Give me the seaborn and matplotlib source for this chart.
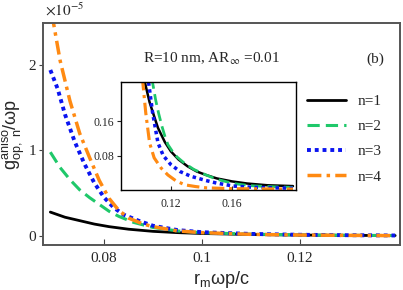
import numpy as np
import pandas as pd
import seaborn as sns
import matplotlib
matplotlib.use("Agg")
import matplotlib.pyplot as plt

# main panel, values in units of 1e-5
x_n1 = [0.069, 0.072, 0.075, 0.078, 0.081, 0.085, 0.090, 0.095, 0.100, 0.110, 0.120, 0.130, 0.1395]
y_n1 = [0.28, 0.22, 0.18, 0.14, 0.11, 0.08, 0.055, 0.04, 0.03, 0.018, 0.012, 0.008, 0.006]
x_n2 = [0.069, 0.071, 0.073, 0.075, 0.077, 0.079, 0.081, 0.083, 0.086, 0.090, 0.095, 0.100, 0.110, 0.120, 0.130, 0.1395]
y_n2 = [0.98, 0.80, 0.66, 0.54, 0.45, 0.37, 0.29, 0.23, 0.16, 0.10, 0.06, 0.04, 0.022, 0.013, 0.009, 0.006]
x_n3 = [0.069, 0.0705, 0.072, 0.074, 0.076, 0.078, 0.080, 0.082, 0.084, 0.087, 0.090, 0.095, 0.100, 0.110, 0.120, 0.130, 0.1395]
y_n3 = [1.94, 1.72, 1.42, 1.10, 0.84, 0.62, 0.45, 0.33, 0.25, 0.18, 0.12, 0.07, 0.045, 0.025, 0.015, 0.010, 0.007]
x_n4 = [0.0693, 0.071, 0.073, 0.075, 0.077, 0.079, 0.081, 0.083, 0.085, 0.088, 0.090, 0.095, 0.100, 0.110, 0.120, 0.130, 0.1395]
y_n4 = [2.6, 2.05, 1.58, 1.20, 0.92, 0.65, 0.44, 0.30, 0.21, 0.14, 0.11, 0.06, 0.04, 0.02, 0.012, 0.008, 0.005]

# inset panel
ix_n1 = [0.100, 0.103, 0.106, 0.109, 0.1115, 0.116, 0.120, 0.125, 0.131, 0.137, 0.143, 0.150, 0.160, 0.170, 0.183, 0.200]
iy_n1 = [0.30, 0.25, 0.205, 0.172, 0.145, 0.112, 0.090, 0.071, 0.055, 0.043, 0.035, 0.027, 0.020, 0.015, 0.011, 0.009]
ix_n2 = [0.106, 0.108, 0.110, 0.112, 0.114, 0.116, 0.118, 0.121, 0.124, 0.129, 0.135, 0.143, 0.150, 0.161, 0.172, 0.183, 0.200]
iy_n2 = [0.30, 0.25, 0.21, 0.178, 0.150, 0.126, 0.106, 0.090, 0.077, 0.062, 0.048, 0.035, 0.025, 0.015, 0.010, 0.008, 0.006]
ix_n3 = [0.1035, 0.1054, 0.108, 0.1115, 0.115, 0.120, 0.126, 0.133, 0.143, 0.150, 0.161, 0.175, 0.200]
iy_n3 = [0.30, 0.25, 0.18, 0.110, 0.080, 0.059, 0.043, 0.032, 0.022, 0.016, 0.009, 0.006, 0.004]
ix_n4 = [0.100, 0.1016, 0.1035, 0.106, 0.109, 0.1136, 0.118, 0.123, 0.129, 0.136, 0.143, 0.160, 0.200]
iy_n4 = [0.32, 0.25, 0.18, 0.110, 0.075, 0.051, 0.035, 0.022, 0.012, 0.008, 0.005, 0.003, 0.002]

labels = ["n=1", "n=2", "n=3", "n=4"]
colors = ["black", "#1fc86a", "#0a14f0", "#ff8a12"]
styles = ["-", (0, (4, 2)), (0, (1, 1)), (0, (4, 1.5, 1, 1.5))]
widths = [2.0, 2.2, 2.8, 2.5]

sns.set_style("ticks")
plt.rcParams["font.family"] = ["Liberation Serif", "DejaVu Serif"]
plt.rcParams["mathtext.fontset"] = "custom"
plt.rcParams["mathtext.rm"] = "Liberation Sans"
plt.rcParams["mathtext.it"] = "Liberation Sans:italic"

fig = plt.figure(figsize=(4.03, 2.90), dpi=100)
ax = fig.add_axes([0.1067, 0.155, 0.886, 0.766])

main = [(x_n1, y_n1), (x_n2, y_n2), (x_n3, y_n3), (x_n4, y_n4)]
for (xs, ys), lab, c, ls, lw in zip(main, labels, colors, styles, widths):
    df = pd.DataFrame({"x": xs, "y": ys})
    sns.lineplot(data=df, x="x", y="y", ax=ax, color=c, linestyle=ls, linewidth=lw,
                 label=lab, sort=False)

ax.set_xlim(0.0675, 0.1405)
ax.set_ylim(-0.105, 2.49)
ax.set_xticks([0.08, 0.1, 0.12])
ax.set_xticklabels(["0.08", "0.1", "0.12"])
ax.set_yticks([0, 1, 2])
ax.set_yticklabels(["0", "1", "2"])
ax.tick_params(axis="x", direction="in", length=4, labelsize=11, pad=5, color="#444444")
ax.tick_params(axis="y", direction="out", length=3, labelsize=11, pad=2, color="#444444")
for s in ax.spines.values():
    s.set_color("#555555")
    s.set_linewidth(1.4)

ax.set_xlabel(r"$\mathrm{r_m ωp/c}$", fontsize=13, labelpad=3)
ax.set_ylabel(r"$\mathrm{g^{aniso}_{op,\ n}/ωp}$", fontsize=13, labelpad=1)

fig.text(0.112, 0.945, r"$\times10^{-5}$", fontsize=11, math_fontfamily="stix")
ax.text(0.28, 0.838, r"R=10 nm, AR$_{\infty}$ =0.01", transform=ax.transAxes,
        fontsize=11, math_fontfamily="stix", va="center")
ax.text(0.905, 0.838, "(b)", transform=ax.transAxes, fontsize=11, va="center")

leg = ax.legend(loc="upper left", bbox_to_anchor=(0.7, 0.74), frameon=False,
                fontsize=11, handlelength=2.6, labelspacing=0.75, handletextpad=0.7)

ins = fig.add_axes([0.300, 0.345, 0.4345, 0.372])
inset = [(ix_n1, iy_n1), (ix_n2, iy_n2), (ix_n3, iy_n3), (ix_n4, iy_n4)]
for (xs, ys), c, ls, lw in zip(inset, colors, styles, widths):
    df = pd.DataFrame({"x": xs, "y": ys})
    sns.lineplot(data=df, x="x", y="y", ax=ins, color=c, linestyle=ls,
                 linewidth=lw * 0.9, sort=False, legend=False)
ins.set_xlim(0.0872, 0.202)
ins.set_ylim(0.0, 0.252)
ins.set_xticks([0.12, 0.16])
ins.set_xticklabels(["0.12", "0.16"])
ins.set_yticks([0.08, 0.16])
ins.set_yticklabels(["0.08", "0.16"])
ins.set_xlabel("")
ins.set_ylabel("")
ins.tick_params(axis="x", direction="in", length=3, labelsize=8.5, pad=6)
ins.tick_params(axis="y", direction="out", length=3, labelsize=8.5, pad=2)
for s in ins.spines.values():
    s.set_color("black")
    s.set_linewidth(1.0)

fig.savefig("out.png", dpi=100)
